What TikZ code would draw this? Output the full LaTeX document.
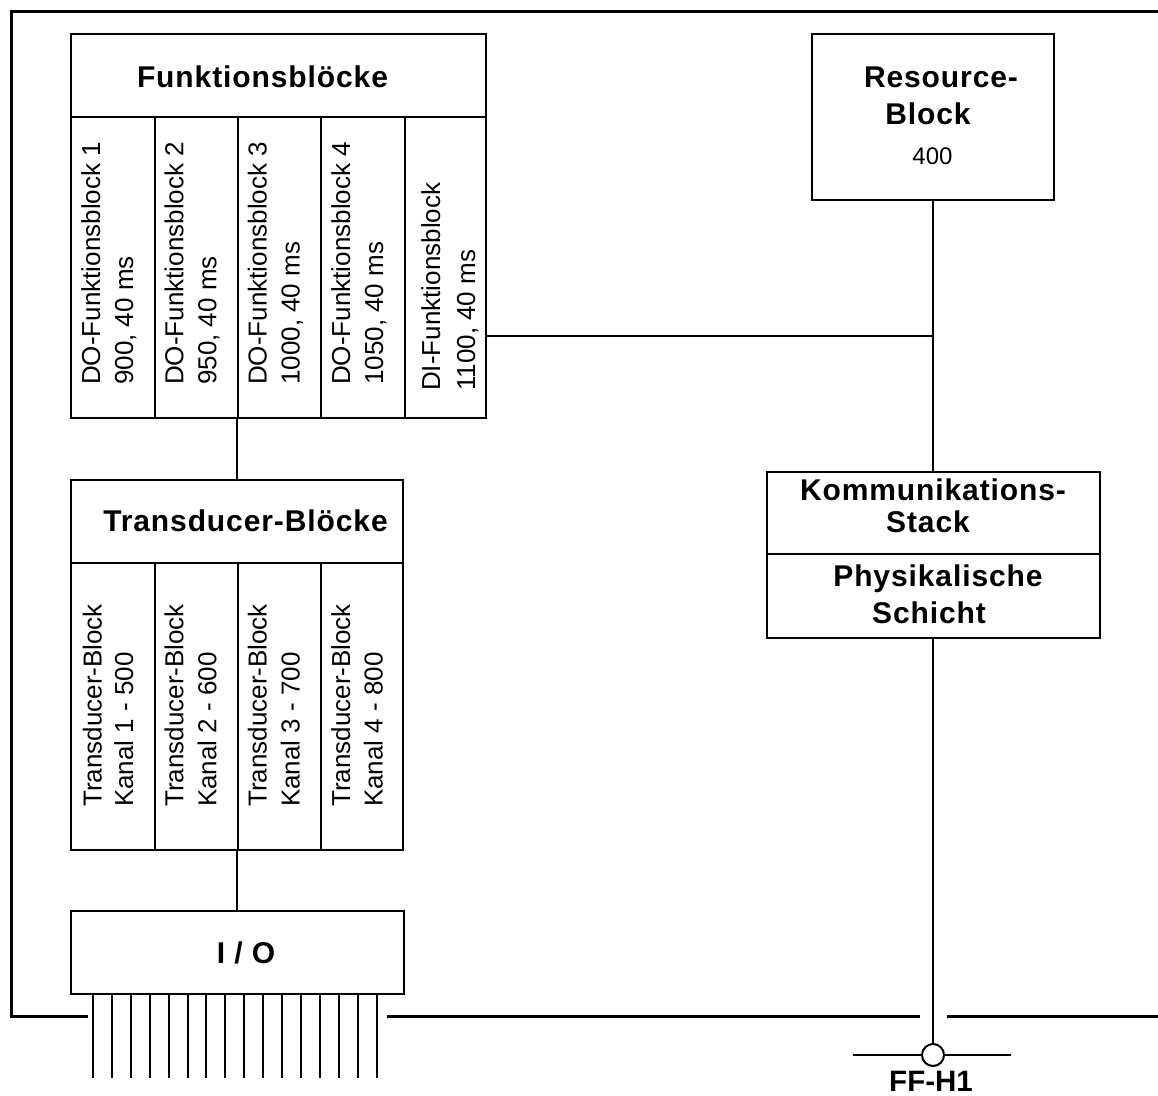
\documentclass[tikz,border=0pt]{standalone}
\usepackage{fontspec}
\setmainfont{Liberation Sans}
\newfontfamily\tfont[LetterSpace=3]{Liberation Sans}
\usetikzlibrary{fit}
\tikzset{
  frameline/.style={line width=3pt},
  box/.style={draw, line width=2.3pt, inner sep=0pt},
  conn/.style={line width=2.7pt},
  thinconn/.style={line width=2pt},
  pinline/.style={line width=2pt},
  title/.style={font=\tfont\bfseries\fontsize{30}{36}\selectfont, anchor=base, inner sep=0pt},
  ftitle/.style={font=\bfseries\fontsize{29.5}{36}\selectfont, anchor=base, inner sep=0pt},
  vtext/.style={font=\fontsize{26}{32}\selectfont, rotate=90, anchor=base west, inner sep=0pt},
  numtext/.style={font=\fontsize{24}{29}\selectfont, anchor=base, inner sep=0pt},
}
\begin{document}
\begin{tikzpicture}[x=1pt,y=-1pt]
\path[use as bounding box, fill=white] (0,0) rectangle (1158,1095);
\clip (0,0) rectangle (1158,1095);

% outer frame
\draw[frameline] (88,1016) -| (11,11) -- (1162,11);
\draw[frameline] (387,1016) -- (920,1016);
\draw[frameline] (947,1016) -- (1162,1016);

% Funktionsbloecke
\node[box, fit={(71,34) (486,117)}] (fbh) {};
\node[box, fit={(71,117) (155,418)}] (fb1) {};
\node[box, fit={(155,117) (238,418)}] (fb2) {};
\node[box, fit={(238,117) (321,418)}] (fb3) {};
\node[box, fit={(321,117) (405,418)}] (fb4) {};
\node[box, fit={(405,117) (486,418)}] (fb5) {};
\node[title] (fbt) at (262.5,87) {Funktionsblöcke};
\node[vtext] (fb1a) at (100,385) {DO-Funktionsblock 1};
\node[vtext] (fb1b) at (133,385) {900, 40 ms};
\node[vtext] (fb2a) at (183.3,385) {DO-Funktionsblock 2};
\node[vtext] (fb2b) at (216.3,385) {950, 40 ms};
\node[vtext] (fb3a) at (266.6,385) {DO-Funktionsblock 3};
\node[vtext] (fb3b) at (299.6,385) {1000, 40 ms};
\node[vtext] (fb4a) at (350,385) {DO-Funktionsblock 4};
\node[vtext] (fb4b) at (383,385) {1050, 40 ms};
\node[vtext] (fb5a) at (440,391) {DI-Funktionsblock};
\node[vtext] (fb5b) at (475,391) {1100, 40 ms};

% Transducer-Bloecke
\node[box, fit={(71,480) (403,563)}] (tbh) {};
\node[box, fit={(71,563) (155,850)}] (tb1) {};
\node[box, fit={(155,563) (238,850)}] (tb2) {};
\node[box, fit={(238,563) (321,850)}] (tb3) {};
\node[box, fit={(321,563) (403,850)}] (tb4) {};
\node[title] (tbt) at (245.5,531.7) {Transducer-Blöcke};
\node[vtext] (tb1a) at (101.7,807) {Transducer-Block};
\node[vtext] (tb1b) at (133,807) {Kanal 1 - 500};
\node[vtext] (tb2a) at (183.3,807) {Transducer-Block};
\node[vtext] (tb2b) at (216.3,807) {Kanal 2 - 600};
\node[vtext] (tb3a) at (266.6,807) {Transducer-Block};
\node[vtext] (tb3b) at (299.6,807) {Kanal 3 - 700};
\node[vtext] (tb4a) at (350,807) {Transducer-Block};
\node[vtext] (tb4b) at (382.7,807) {Kanal 4 - 800};

% I/O
\node[box, fit={(71,911) (404,994)}] (io) {};
\node[title] (iot) at (246,963) {I / O};
\foreach \i in {0,...,15}
  \draw[pinline] ([xshift={23+18.93*\i}]io.south west) -- ++(0,83);

% Resource-Block
\node[box, fit={(812,34) (1054,200)}] (rb) {};
\node[title] (rbt1) at (941,87) {Resource-};
\node[title] (rbt2) at (928,124) {Block};
\node[numtext] (rbt3) at (932.5,164) {400};

% Kommunikations-Stack / Physikalische Schicht
\node[box, fit={(767,472) (1100,554)}] (ks) {};
\node[box, fit={(767,554) (1100,638)}] (ps) {};
\node[title] (kst1) at (933,500) {Kommunikations-};
\node[title] (kst2) at (928,532) {Stack};
\node[title] (pst1) at (938,586) {Physikalische};
\node[title] (pst2) at (929,623) {Schicht};

% connectors
\coordinate (junc) at (933,336);
\draw[conn] (fb3.south west) -- (fb3.south west |- tbh.north);
\draw[conn] (tb3.south west) -- (tb3.south west |- io.north);
\draw[conn] (rb.south) -- (rb.south |- ks.north);
\draw[thinconn] (fb5.south east |- junc) -- (junc);

% FF-H1 bus
\coordinate (busL) at (853,1055);
\coordinate (busR) at (1011,1055);
\draw[line width=2.3pt] (busL) -- (busR);
\node[circle, draw, fill=white, line width=2pt, minimum size=22pt, inner sep=0pt] (bus) at (933,1055) {};
\draw[conn] (ps.south -| bus.north) -- (bus.north);
\node[ftitle] (ffh) at (931,1091) {FF-H1};
\end{tikzpicture}
\end{document}
